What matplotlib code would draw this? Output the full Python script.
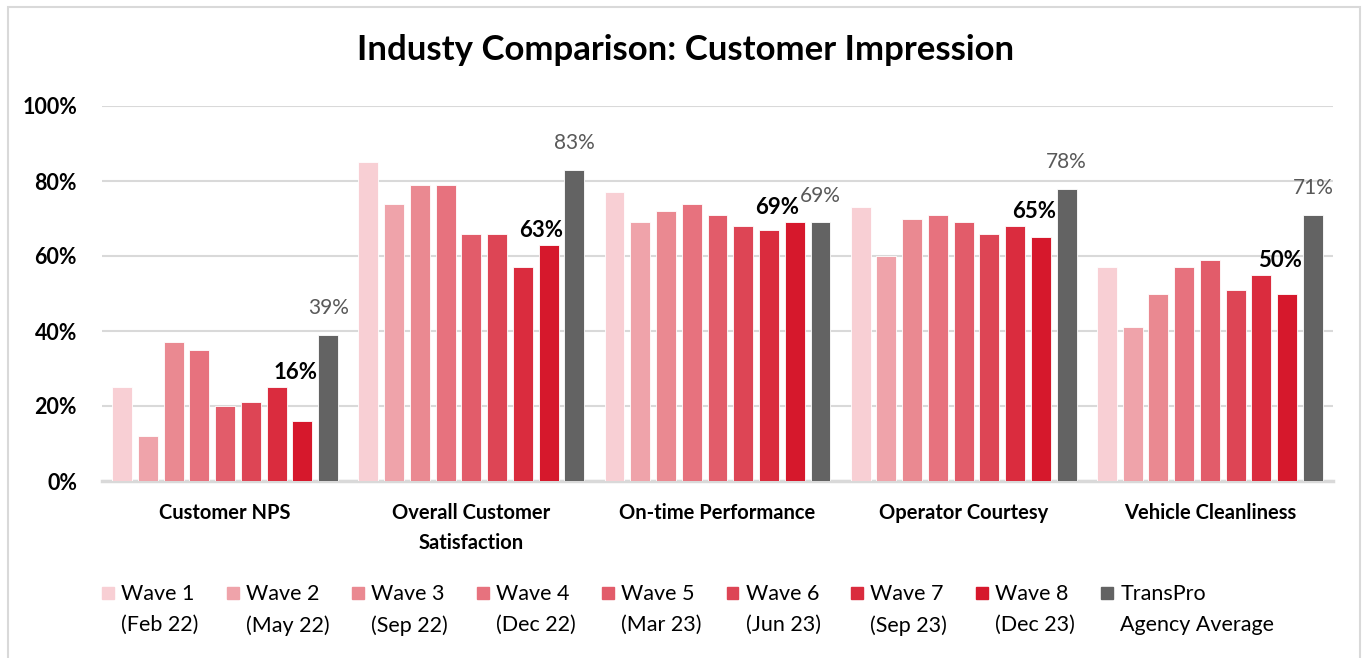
import numpy as np
import matplotlib.pyplot as plt
from matplotlib.patches import Rectangle

plt.rcParams['font.family'] = ['Lato', 'DejaVu Sans']

categories = ["Customer NPS", "Overall Customer\nSatisfaction", "On-time Performance",
              "Operator Courtesy", "Vehicle Cleanliness"]
series_labels = ["Wave 1\n(Feb 22)", "Wave 2\n(May 22)", "Wave 3\n(Sep 22)", "Wave 4\n(Dec 22)",
                 "Wave 5\n(Mar 23)", "Wave 6\n(Jun 23)", "Wave 7\n(Sep 23)", "Wave 8\n(Dec 23)",
                 "TransPro\nAgency Average"]
wave1 = [25, 85, 77, 73, 57]
wave2 = [12, 74, 69, 60, 41]
wave3 = [37, 79, 72, 70, 50]
wave4 = [35, 79, 74, 71, 57]
wave5 = [20, 66, 71, 69, 59]
wave6 = [21, 66, 68, 66, 51]
wave7 = [25, 57, 67, 68, 55]
wave8 = [16, 63, 69, 65, 50]
transpro = [39, 83, 69, 78, 71]

colors = ["#f8cfd4", "#efa3aa", "#ea8991", "#e7727e", "#e25c6a", "#dd4555",
          "#da2c3e", "#d6182c", "#636363"]

series = [wave1, wave2, wave3, wave4, wave5, wave6, wave7, wave8, transpro]

W, H = 1363, 658
fig = plt.figure(figsize=(W / 100, H / 100), dpi=100)
ax = fig.add_axes([102 / W, 1 - 481 / H, (1333 - 102) / W, (481 - 106) / H])

x = np.arange(len(categories))
slot = 0.1046
bw = 0.081
for j, (vals, col) in enumerate(zip(series, colors)):
    ax.bar(x + (j - 4) * slot, vals, bw, color=col, edgecolor="white",
           linewidth=0.6, zorder=3)

# labels: Wave 8 bold black, TransPro gray
for i in range(len(categories)):
    xb = x[i] + 3 * slot
    ytop = max(wave7[i], wave8[i])
    # nudge further left when it would run into the TransPro label
    dx = -13 if abs(wave8[i] - transpro[i]) < 5 else -5
    ax.annotate(f"{wave8[i]}%", (xb, ytop), xytext=(dx, 3), textcoords="offset points",
                ha="center", va="bottom", fontsize=16, fontweight="bold", color="black")
    xt = x[i] + 4 * slot
    ax.annotate(f"{transpro[i]}%", (xt, transpro[i]), xytext=(0, 12), textcoords="offset points",
                ha="center", va="bottom", fontsize=15, color="#595959")

ax.set_xlim(-0.5, len(categories) - 0.5)
ax.set_ylim(0, 100)
ax.set_yticks(np.arange(0, 101, 20))
ax.set_yticklabels([f"{v}%" for v in range(0, 101, 20)], fontsize=15.5, fontweight="bold")
ax.set_xticks(x)
ax.set_xticklabels(categories, fontsize=14.5, fontweight="bold", linespacing=1.6)
ax.tick_params(axis="both", length=0)
ax.tick_params(axis="y", pad=18)
ax.tick_params(axis="x", pad=16)
ax.grid(axis="y", color="#d9d9d9", linewidth=1.5, zorder=0)
for s in ["top", "right", "left"]:
    ax.spines[s].set_visible(False)
ax.spines["bottom"].set_color("#d9d9d9")
ax.spines["bottom"].set_linewidth(2.5)

fig.text(0.503, 1 - 50 / H, "Industy Comparison: Customer Impression", ha="center", va="center",
         fontsize=25, fontweight="bold")

# legend
for j, (lab, col) in enumerate(zip(series_labels, colors)):
    lx = 102 + j * 124.9
    fig.patches.append(Rectangle((lx / W, 1 - 599 / H), 12 / W, 12 / H, color=col,
                                 transform=fig.transFigure))
    fig.text((lx + 19) / W, 1 - 584 / H, lab, ha="left", va="top", fontsize=15.5,
             linespacing=1.7)

fig.patches.append(Rectangle((8 / W, -0.02), (1360 - 8) / W, 1.02 - 7 / H, fill=False,
                             edgecolor="#d9d9d9", linewidth=1.5, transform=fig.transFigure))

fig.savefig("out.png", dpi=100)
